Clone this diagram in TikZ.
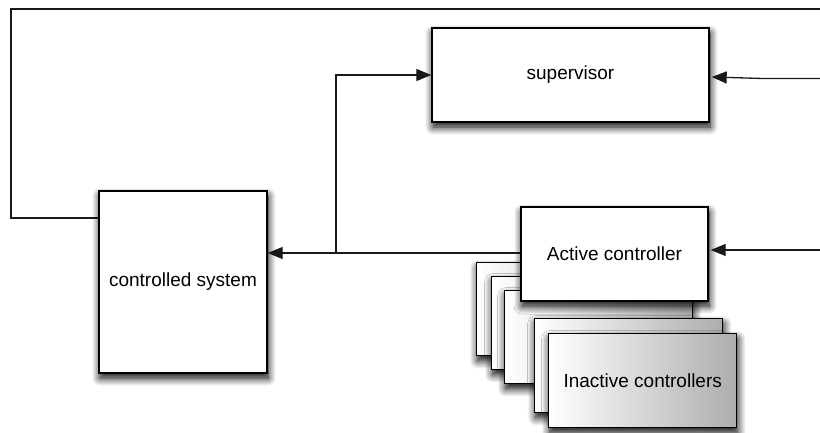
\documentclass[tikz,border=0pt]{standalone}
\usepackage{fontspec}
\setmainfont{Liberation Sans}
\usetikzlibrary{arrows.meta,shadows.blur}

\tikzset{
  blockbox/.style={draw=black, line width=1.4pt, fill=white, inner sep=0pt,
    font=\fontsize{19}{22}\selectfont,
    blur shadow={shadow xshift=1pt, shadow yshift=-5pt,
      shadow blur radius=8pt, shadow blur steps=10, shadow opacity=100}},
  idlecard/.style={blockbox, left color=white, right color=black!32},
  link/.style={draw=black!90, line width=1.3pt},
  feed/.style={link, -{Triangle[length=15pt,width=12pt]}},
}

\begin{document}
\begin{tikzpicture}[x=1pt, y=-1pt]
  \useasboundingbox (0,0) rectangle (820,433);

  % plant and supervisor
  \node[blockbox, minimum width=168pt, minimum height=182pt] (sys) at (183,282) {controlled system};
  \node[blockbox, minimum width=277pt, minimum height=94pt] (sup) at (570.5,75) {supervisor};

  % stack of idle controllers, back to front
  \node[idlecard, minimum width=188pt, minimum height=93pt, anchor=north west] (c1) at (476,262) {};
  \node[idlecard, minimum width=188pt, minimum height=93pt, anchor=north west] (c2) at (491,276) {};
  \node[idlecard, minimum width=188pt, minimum height=93pt, anchor=north west] (c3) at (504,290) {};
  \node[idlecard, minimum width=188pt, minimum height=94pt, anchor=north west] (c4) at (534,318) {};
  \node[idlecard, minimum width=188pt, minimum height=94pt, anchor=north west] (c5) at (548,333) {Inactive controllers};

  % controller currently in the loop
  \node[blockbox, minimum width=187pt, minimum height=94pt] (act) at (614.5,254) {Active controller};

  % loose ends of the connectors
  \coordinate (fbL) at (11,218);
  \coordinate (fbR) at (820,9);
  \coordinate (branch) at (336,253);
  \coordinate (supinA) at (820,78.5);
  \coordinate (supinB) at (763,78.5);
  \coordinate (actin) at (820,250);

  % feedback from the plant round the top
  \draw[link] (sys.west |- fbL) -- (fbL) |- (fbR);

  % control signal into the plant, tapped for the supervisor
  \draw[feed] (act.west |- branch) -- (sys.east |- branch);
  \draw[feed] (branch) |- (sup.west);

  % external inputs from the right
  \draw[feed] (supinA) -- (supinB) -- ([yshift=-2pt,xshift=2pt]sup.east);
  \draw[feed] (actin) -- ([xshift=2pt]act.east |- actin);
\end{tikzpicture}
\end{document}
